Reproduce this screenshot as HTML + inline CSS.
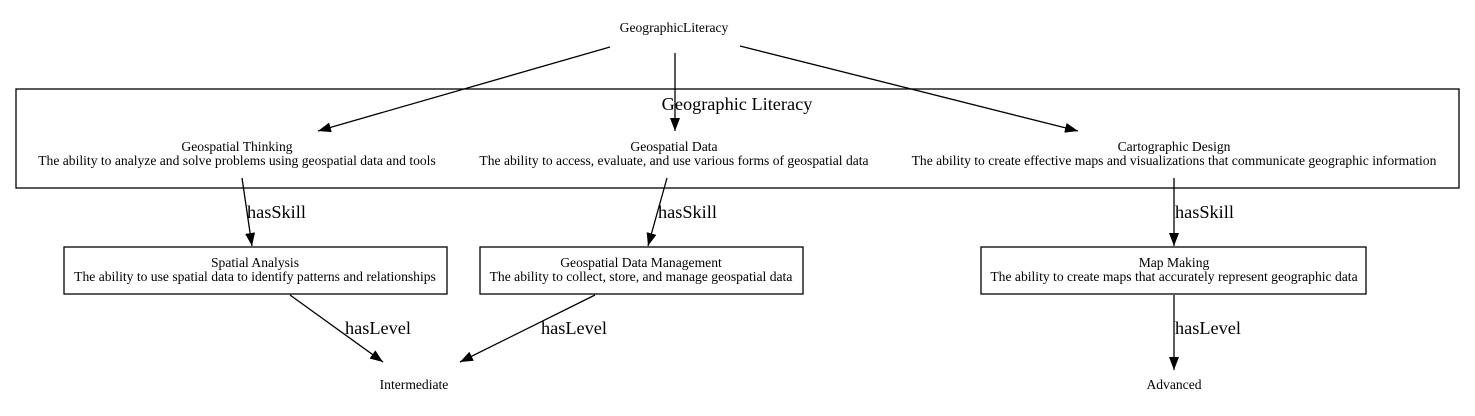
<!DOCTYPE html>
<html><head><meta charset="utf-8"><style>
html,body{margin:0;padding:0;background:#fff;}
svg{display:block;font-family:"Liberation Serif",serif;}
.n{font-size:13.6px;text-anchor:middle;}
.l{font-size:18.3px;}
</style></head><body>
<svg width="1475" height="416" viewBox="0 0 1475 416" xmlns="http://www.w3.org/2000/svg">
<defs><marker id="a" markerWidth="13" markerHeight="10" refX="13" refY="5" orient="auto" markerUnits="userSpaceOnUse"><path d="M0,0 L13,5 L0,10 z" fill="#000"/></marker></defs>
<rect x="16" y="89" width="1443" height="99" fill="none" stroke="#000" stroke-width="1.3"/>
<text x="737" y="110" style="font-size:18.3px;text-anchor:middle">Geographic Literacy</text>
<text class="n" x="674" y="32">GeographicLiteracy</text>
<text class="n" x="237" y="151">Geospatial Thinking</text>
<text class="n" x="237" y="165">The ability to analyze and solve problems using geospatial data and tools</text>
<text class="n" x="674" y="151">Geospatial Data</text>
<text class="n" x="674" y="165">The ability to access, evaluate, and use various forms of geospatial data</text>
<text class="n" x="1174" y="151">Cartographic Design</text>
<text class="n" x="1174" y="165">The ability to create effective maps and visualizations that communicate geographic information</text>
<rect x="64" y="247" width="383" height="47" fill="none" stroke="#000" stroke-width="1.3"/>
<text class="n" x="255" y="267">Spatial Analysis</text>
<text class="n" x="255" y="281">The ability to use spatial data to identify patterns and relationships</text>
<rect x="480" y="247" width="323" height="47" fill="none" stroke="#000" stroke-width="1.3"/>
<text class="n" x="641" y="267">Geospatial Data Management</text>
<text class="n" x="641" y="281">The ability to collect, store, and manage geospatial data</text>
<rect x="981" y="247" width="385" height="47" fill="none" stroke="#000" stroke-width="1.3"/>
<text class="n" x="1174" y="267">Map Making</text>
<text class="n" x="1174" y="281">The ability to create maps that accurately represent geographic data</text>
<text class="n" x="414" y="389">Intermediate</text>
<text class="n" x="1174" y="389">Advanced</text>
<g stroke="#000" stroke-width="1.3" fill="none" marker-end="url(#a)">
<line x1="610" y1="47" x2="318" y2="131"/>
<line x1="675" y1="53" x2="675" y2="131"/>
<line x1="740" y1="46" x2="1078" y2="131"/>
<line x1="242" y1="178" x2="252" y2="246"/>
<line x1="667" y1="178" x2="648" y2="246"/>
<line x1="1174" y1="178" x2="1174" y2="246"/>
<line x1="290" y1="295" x2="383" y2="362"/>
<line x1="595" y1="295" x2="460" y2="362"/>
<line x1="1174" y1="295" x2="1174" y2="370"/>
</g>
<text class="l" x="247" y="218">hasSkill</text>
<text class="l" x="658" y="218">hasSkill</text>
<text class="l" x="1175" y="218">hasSkill</text>
<text class="l" x="345" y="334">hasLevel</text>
<text class="l" x="541" y="334">hasLevel</text>
<text class="l" x="1175" y="334">hasLevel</text>
</svg>
</body></html>
